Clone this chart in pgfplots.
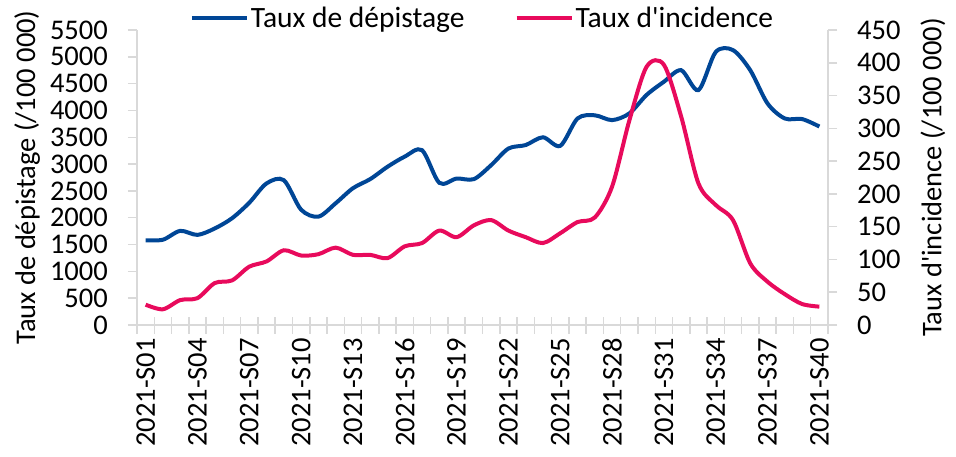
\documentclass[border=0pt]{standalone}
\usepackage{pgfplots}
\pgfplotsset{compat=1.18}
\usepackage{fontspec}
\setmainfont{Carlito}[Ligatures=TeXOff]
\definecolor{cblue}{RGB}{0,70,150}
\definecolor{cred}{RGB}{232,10,92}
\definecolor{cgrid}{RGB}{217,217,217}
\newcommand{\ff}{\fontsize{28.5bp}{33bp}\selectfont}
\newcommand{\fl}{\fontsize{29.5bp}{34bp}\selectfont}
\pgfplotstableread{
x dep inc
0 1580 31
1 1590 24
2 1755 38
3 1680 41
4 1800 64
5 1990 68
6 2280 89
7 2640 97
8 2700 114
9 2150 106
10 2020 108
11 2270 118
12 2550 107
13 2720 107
14 2950 102
15 3140 120
16 3260 125
17 2650 144
18 2730 134
19 2720 152
20 2980 160
21 3290 144
22 3355 134
23 3500 125
24 3340 140
25 3850 157
26 3910 164
27 3820 211
28 3945 312
29 4290 394
30 4535 397
31 4750 318
32 4380 216
33 5090 183
34 5125 160
35 4750 94
36 4130 66
37 3850 47
38 3840 32
39 3700 28
}\data
\begin{document}
\begin{tikzpicture}
\path[use as bounding box] (-137bp,-132bp) rectangle (819bp,325bp);
% x axis with ticks and labels
\begin{axis}[
  at={(0,0)}, anchor=south west, scale only axis,
  width=691bp, height=295bp,
  xmin=-0.5, xmax=39.5, ymin=0, ymax=1,
  axis x line=bottom, axis y line=none,
  axis line style={draw=cgrid, line width=1.5bp, -},
  xtick={-0.5,0.5,...,39.5}, xticklabels={},
  major tick length=17bp, tick align=center,
  xtick style={draw=cgrid, line width=1.5bp},
  extra x ticks={0,3,...,39},
  extra x tick labels={2021-S01,2021-S04,2021-S07,2021-S10,2021-S13,2021-S16,2021-S19,2021-S22,2021-S25,2021-S28,2021-S31,2021-S34,2021-S37,2021-S40},
  extra x tick style={major tick length=0pt, xticklabel style={rotate=90, anchor=east, inner sep=0pt, xshift=-13bp, font=\ff}},
]
\end{axis}
% left axis
\begin{axis}[
  at={(0,0)}, anchor=south west, scale only axis,
  width=691bp, height=295bp,
  xmin=-0.5, xmax=39.5, ymin=0, ymax=5500,
  axis x line=none, axis y line=left,
  axis line style={draw=cgrid, line width=1.5bp, -},
  ytick={0,500,...,5500},
  major tick length=9bp, tick align=outside,
  ytick style={draw=cgrid, line width=1.5bp},
  yticklabel style={font=\ff, inner sep=0pt, anchor=east},
  yticklabel shift={20bp},
  /pgf/number format/assume math mode=true,
  /pgf/number format/set thousands separator={},
  ylabel={Taux de dépistage (/100 000)},
  ylabel style={font=\ff, at={(axis description cs:-0.159,0.5)}, anchor=center},
  legend columns=2,
  legend style={draw=none, fill=none, font=\fl, at={(axis description cs:0.5,1.041)}, anchor=center,
    /tikz/every even column/.append style={column sep=48bp}},
  legend image code/.code={\draw[#1] (0bp,0bp) -- (55bp,0bp);},
]
\addplot[cblue, line width=4bp, smooth] table[x=x, y=dep] {\data};
\addlegendentry{Taux de dépistage}
\addlegendimage{cred, line width=4bp}
\addlegendentry{Taux d'incidence}
\end{axis}
% right axis
\begin{axis}[
  at={(0,0)}, anchor=south west, scale only axis,
  width=691bp, height=295bp,
  xmin=-0.5, xmax=39.5, ymin=0, ymax=450,
  axis x line=none, axis y line=right,
  axis line style={draw=cgrid, line width=1.5bp, -},
  ytick={0,50,...,450},
  major tick length=9bp, tick align=outside,
  ytick style={draw=cgrid, line width=1.5bp},
  yticklabel style={font=\ff, inner sep=0pt, anchor=west},
  yticklabel shift={20bp},
  /pgf/number format/assume math mode=true,
  ylabel={Taux d'incidence (/100 000)},
  ylabel style={font=\ff, at={(axis description cs:1.152,0.5)}, anchor=center, rotate=0},
]
\addplot[cred, line width=4bp, smooth] table[x=x, y=inc] {\data};
\end{axis}
\end{tikzpicture}
\end{document}
